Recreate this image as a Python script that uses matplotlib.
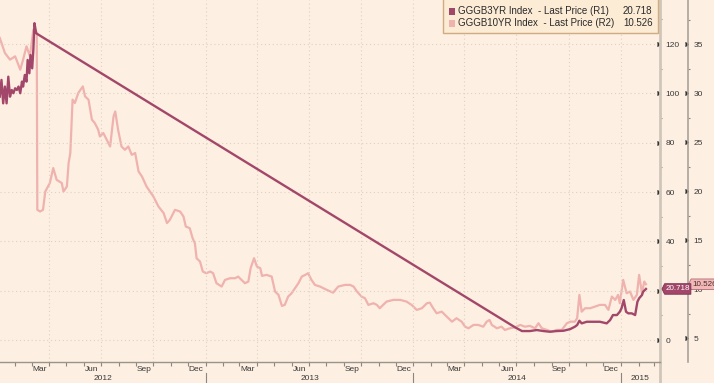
import matplotlib
matplotlib.use("Agg")
import matplotlib.pyplot as plt
import matplotlib.dates as mdates
import matplotlib.transforms as mtransforms
from matplotlib.path import Path
from matplotlib.patches import Rectangle
from matplotlib.ticker import FixedLocator, NullFormatter
import pandas as pd

# ---------------- data ----------------
start = pd.Timestamp("2012-01-01")

# GGGB3YR Index (R1): day offsets since start, values
days_3y = [4, 7, 10, 13, 16, 19, 22, 25, 28, 31,
           34, 37, 40, 43, 45, 48, 51, 53, 56, 58,
           61, 63, 65, 68,
           910, 922, 936, 948, 960, 971, 983, 995, 1007, 1015,
           1019, 1023, 1027, 1036, 1047, 1059, 1071, 1077, 1082, 1089,
           1094, 1097, 1101, 1105, 1109, 1115, 1121, 1125, 1128, 1133,
           1135, 1140]
vals_3y = [98.7, 105.5, 96.0, 102.8, 96.0, 106.8, 98.7, 101.4, 100.1, 102.1,
           101.4, 102.8, 100.1, 104.8, 102.8, 107.5, 104.8, 113.6, 108.2, 115.6,
           110.2, 117.6, 128.5, 124.4,
           5.15, 3.65, 3.65, 4.06, 3.65, 3.37, 3.65, 3.77, 4.46, 5.40,
           6.09, 7.83, 6.77, 7.42, 7.42, 7.42, 6.77, 8.11, 10.14, 10.14,
           11.48, 12.86, 16.23, 11.48, 10.83, 10.83, 10.14, 15.54, 16.92, 18.26,
           19.59, 20.718]

# GGGB10YR Index (R2)
days_10y = [4, 13, 22, 31, 40, 45, 51, 57, 63, 66,
            69, 70, 75, 80, 84, 92, 98, 104, 113, 116,
            122, 125, 128, 132, 136, 142, 150, 154, 160, 166,
            171, 177, 180, 186, 192, 198, 204, 207, 212, 218,
            224, 230, 236, 242, 248, 254, 262, 274, 283, 292,
            298, 303, 312, 321, 327, 331, 338, 343, 347, 350,
            356, 361, 367, 374, 379, 385, 394, 400, 409, 418,
            423, 429, 435, 441, 445, 451, 456, 462, 465, 473,
            482, 488, 494, 500, 505, 511, 517, 523, 529, 535,
            541, 546, 552, 558, 567, 579, 590, 599, 611, 620,
            626, 632, 640, 646, 652, 661, 667, 672, 684, 696,
            708, 719, 728, 737, 746, 755, 760, 766, 772, 781,
            790, 799, 807, 816, 822, 828, 837, 845, 854, 860,
            865, 869, 878, 886, 892, 901, 910, 919, 927, 936,
            945, 951, 957, 966, 974, 983, 992, 1001, 1007, 1015,
            1019, 1023, 1027, 1033, 1042, 1050, 1059, 1068, 1074, 1080,
            1086, 1091, 1094, 1100, 1106, 1112, 1118, 1124, 1128, 1133,
            1137, 1140]
vals_10y = [35.63, 34.10, 33.42, 33.76, 32.40, 33.42, 34.78, 33.76, 36.48, 36.48,
            36.14, 18.11, 17.94, 18.11, 19.98, 20.84, 22.37, 21.17, 20.84, 19.98,
            20.49, 22.88, 23.90, 29.34, 29.00, 30.02, 30.69, 29.67, 29.34, 27.30,
            26.96, 26.28, 25.59, 25.94, 25.26, 24.57, 27.63, 28.14, 26.28, 24.57,
            24.23, 24.57, 23.72, 23.90, 22.02, 21.51, 20.49, 19.47, 18.45, 17.78,
            16.76, 17.09, 18.11, 17.94, 17.43, 16.41, 16.24, 15.22, 14.71, 13.18,
            12.84, 11.82, 11.65, 11.82, 11.65, 10.63, 10.29, 10.97, 11.14, 11.14,
            11.31, 10.97, 10.63, 10.80, 12.16, 13.18, 12.33, 12.16, 11.38, 11.48,
            11.31, 9.78, 9.44, 8.32, 8.42, 9.27, 9.61, 10.12, 10.63, 11.31,
            11.48, 11.65, 10.97, 10.46, 10.29, 9.95, 9.67, 10.29, 10.46, 10.46,
            10.29, 9.78, 9.27, 9.10, 8.42, 8.59, 8.42, 8.08, 8.76, 8.93,
            8.93, 8.76, 8.42, 7.91, 8.08, 8.59, 8.65, 8.08, 7.57, 7.73,
            7.22, 6.71, 7.06, 6.71, 6.20, 6.04, 6.38, 6.38, 6.20, 6.71,
            6.89, 6.38, 6.04, 6.20, 5.87, 6.04, 6.14, 6.38, 6.20, 6.28,
            6.04, 6.55, 6.04, 5.87, 5.69, 5.87, 5.87, 6.55, 6.71, 6.71,
            7.06, 9.44, 7.73, 8.08, 8.08, 8.24, 8.42, 8.42, 7.91, 9.27,
            8.93, 9.44, 8.59, 10.97, 9.61, 9.78, 8.93, 9.44, 11.48, 9.61,
            10.80, 10.526]

series_labels = ["GGGB3YR Index  - Last Price (R1)", "GGGB10YR Index  - Last Price (R2)"]
last_values = ["20.718", "10.526"]
r1_ticks = [0, 20, 40, 60, 80, 100, 120]
r1_minor = [10, 30, 50, 70, 90, 110, 130]
r2_ticks = [5, 10, 15, 20, 25, 30, 35]
r2_minor = [7.5, 12.5, 17.5, 22.5, 27.5, 32.5, 37.5]
month_names = ["Mar", "Jun", "Sep", "Dec"]
month_nums = [3, 6, 9, 12]
years = [2012, 2013, 2014, 2015]

# ---------------- style ----------------
BG = "#FDEFE1"
GRID = "#DDD2C4"
DARK = "#A3476A"
LIGHT = "#F0B2AE"
TXT = "#3A3A3A"
plt.rcParams["font.family"] = ["Liberation Sans", "DejaVu Sans"]

W, H = 714, 383
fig = plt.figure(figsize=(W / 100, H / 100), dpi=100, facecolor=BG)
ax = fig.add_axes([0, (H - 362) / H, 660 / W, 362 / H])
ax2 = ax.twinx()
ax.set_zorder(3)
ax2.set_zorder(2)
ax.patch.set_visible(False)
ax2.patch.set_visible(False)

d3 = start + pd.to_timedelta(days_3y, unit="D")
d10 = start + pd.to_timedelta(days_10y, unit="D")

ax2.plot(d10, vals_10y, color=LIGHT, lw=1.6, solid_joinstyle="round", zorder=2)
ax.plot(d3, vals_3y, color=DARK, lw=1.7, solid_joinstyle="round", zorder=3)

ax.set_xlim(start + pd.Timedelta(days=4.4), start + pd.Timedelta(days=1164.7))
ax.set_ylim(-8.9, 137.9)
ax2.set_ylim(2.6, 39.5)

# x axis
ax.xaxis.set_major_locator(mdates.MonthLocator(bymonth=[1, 4, 7, 10]))
ax.xaxis.set_minor_locator(mdates.MonthLocator())
ax.xaxis.set_major_formatter(NullFormatter())
ax.xaxis.set_minor_formatter(NullFormatter())
ax.tick_params(axis="x", which="both", direction="out", length=3, width=0.8, color="#8C867E")
ax.grid(axis="x", which="major", linestyle=(0, (1, 2.5)), color=GRID, lw=0.8)
ax.grid(axis="y", which="major", linestyle=(0, (1, 2.5)), color=GRID, lw=0.8)

# spines
for s in ["top", "left"]:
    ax.spines[s].set_visible(False)
ax.spines["right"].set_color("#CFC6B9")
ax.spines["right"].set_linewidth(2)
ax.spines["bottom"].set_color("#9A948C")
ax.spines["bottom"].set_linewidth(1)
for s in ["top", "left", "bottom"]:
    ax2.spines[s].set_visible(False)
ax2.spines["right"].set_position(("axes", 688.3 / 660))
ax2.spines["right"].set_color("#A9A39B")
ax2.spines["right"].set_linewidth(1.2)

# y axes
ax.yaxis.tick_right()
ax.yaxis.set_major_locator(FixedLocator(r1_ticks))
ax.yaxis.set_minor_locator(FixedLocator(r1_minor))
ax2.yaxis.set_major_locator(FixedLocator(r2_ticks))
ax2.yaxis.set_minor_locator(FixedLocator(r2_minor))
for a, pd_ in ((ax, 1.2), (ax2, 0.6)):
    a.tick_params(axis="y", which="major", right=True, left=False, labelright=True,
                  labelleft=False, length=3, width=0.8, pad=pd_, labelsize=6,
                  labelcolor=TXT, color="#2E2E2E")
    a.tick_params(axis="y", which="minor", right=True, left=False, length=1.5,
                  width=0.8, color="#8C867E")
    for t in a.yaxis.get_major_ticks():
        t.tick2line.set_marker(5)
        t.tick2line.set_markersize(3)

# month and year labels below the axis
trans_x = mtransforms.blended_transform_factory(ax.transData, ax.transAxes)
x0, x1 = ax.get_xlim()
for y in years:
    for name, m in zip(month_names, month_nums):
        dt = pd.Timestamp(year=y, month=m, day=15)
        xv = mdates.date2num(dt)
        if x0 < xv < x1:
            ax.text(dt, -7.3 / 362, name, transform=trans_x, ha="center", va="center",
                    fontsize=6, color=TXT, clip_on=False)
    ya = max(x0, mdates.date2num(pd.Timestamp(year=y, month=1, day=1)))
    yb = min(x1, mdates.date2num(pd.Timestamp(year=y + 1, month=1, day=1)))
    ax.text((ya + yb) / 2, -16.7 / 362, str(y), transform=trans_x, ha="center",
            va="center", fontsize=6, color=TXT, clip_on=False)
    if y > years[0]:
        xs = mdates.date2num(pd.Timestamp(year=y, month=1, day=1))
        ax.plot([xs, xs], [-10.5 / 362, -21 / 362], transform=trans_x, color="#8C867E",
                lw=0.8, clip_on=False)
ax.plot([1, 1], [0, -21 / 362], transform=ax.transAxes, color="#CFC6B9", lw=2,
        clip_on=False)


# value badges
def tag_shape(x0, y0, width, height, mutation_size):
    pad = 0.22 * mutation_size
    x0 -= pad * 0.5
    y0 -= pad
    width += pad * 1.0
    height += pad * 2
    tip = height * 0.25
    x1, y1, ym = x0 + width, y0 + height, y0 + height / 2
    return Path([(x0, y0), (x1, y0), (x1, y1), (x0, y1), (x0 - tip, ym), (x0, y0)],
                closed=True)


tb1 = mtransforms.blended_transform_factory(ax.transAxes, ax.transData)
ax.text(1 + 5.5 / 660, float(last_values[0]), last_values[0], transform=tb1, ha="left",
        va="center", fontsize=5.8, color="white", clip_on=False, zorder=10,
        bbox=dict(boxstyle=tag_shape, fc=DARK, ec="#7E3050", lw=0.6))
tb2 = mtransforms.blended_transform_factory(ax2.transAxes, ax2.transData)
ax2.text(1 + 32 / 660, float(last_values[1]), last_values[1], transform=tb2, ha="left",
         va="center", fontsize=5.8, color="#4A2A30", clip_on=False, zorder=10,
         bbox=dict(boxstyle=tag_shape, fc="#F3B9B6", ec="#B06A78", lw=0.6))


# legend
def fx(px):
    return px / W


def fy(py):
    return 1 - py / H


fig.add_artist(Rectangle((fx(443), fy(33)), fx(658) - fx(443), 40 / H,
                         transform=fig.transFigure, fc="#FCEBD5", ec="#D2AC80", lw=1,
                         zorder=20))
for i, (lab, val, col) in enumerate(zip(series_labels, last_values, [DARK, LIGHT])):
    yc = 11.3 + 12 * i
    fig.add_artist(Rectangle((fx(449.3), fy(yc + 3.3)), 6 / W, 6.6 / H,
                             transform=fig.transFigure, fc=col, ec="none", zorder=21))
    fig.text(fx(458), fy(yc), lab, ha="left", va="center", fontsize=7, color="#2A2A2A",
             zorder=22)
    fig.text(fx(652.5), fy(yc), val, ha="right", va="center", fontsize=7,
             color="#2A2A2A", zorder=22)

fig.savefig("out.png", dpi=100, facecolor=BG)
